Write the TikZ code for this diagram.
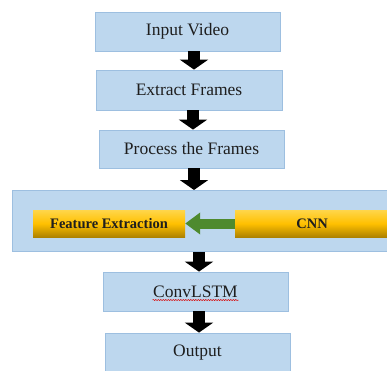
\documentclass[tikz,border=0pt]{standalone}
\usepackage{fontspec}
\setmainfont{Liberation Serif}
\usetikzlibrary{arrows.meta,calc,decorations.pathmorphing}
\definecolor{boxblue}{HTML}{BDD7EE}
\definecolor{boxedge}{HTML}{9DBFE0}
\definecolor{txt}{HTML}{1E1E1E}
\definecolor{arrgreen}{HTML}{4E8A2E}
\definecolor{goldtop}{HTML}{FFD64A}
\definecolor{goldmid}{HTML}{FFC000}
\definecolor{goldbot}{HTML}{AE8200}
\tikzset{
  x=1pt, y=1pt,
  bluebox/.style={draw=boxedge, line width=0.8pt, fill=boxblue, inner sep=0pt,
    font=\fontsize{17.5}{19}\selectfont, text=txt},
  goldbox/.style={inner sep=0pt, top color=goldtop, bottom color=goldbot, middle color=goldmid,
    font=\fontsize{14.5}{16}\selectfont\bfseries, text=txt},
  blockarrow/.style={draw=black, line width=12pt,
    -{Triangle[width=28pt,length=10pt]}},
  greenarrow/.style={draw=arrgreen, line width=10pt,
    -{Triangle[width=21pt,length=15pt]}}
}
\begin{document}
\begin{tikzpicture}
\useasboundingbox (0,0) rectangle (387,-370);
\fill[white] (0,0) rectangle (387,-370);
\node[bluebox, minimum width=185, minimum height=39] (input) at (187.5,-31.5) {Input Video};
\node[bluebox, minimum width=186, minimum height=40] (extract) at (189,-90) {Extract Frames};
\node[bluebox, minimum width=185, minimum height=38] (process) at (191.5,-149) {Process the Frames};
\node[bluebox, minimum width=382, minimum height=61, anchor=north west] (stage) at (12,-190) {};
\node[goldbox, minimum width=152, minimum height=27] (feat) at (109,-223.5) {Feature Extraction};
\node[goldbox, minimum width=160, minimum height=27, anchor=west] (cnn) at (235,-223.5) {\hspace*{-6pt}CNN};
\node[bluebox, minimum width=185, minimum height=39] (conv) at (195.5,-291.5) {ConvLSTM};
\node[bluebox, minimum width=185, minimum height=39] (out) at (197.5,-352.5) {Output};
\draw[red!85!black, line width=0.5pt, decorate, decoration={snake, amplitude=0.6pt, segment length=2.5pt}]
  ($(conv.center)+(-43,-8.5)$) -- ($(conv.center)+(43,-8.5)$);
\draw[blockarrow] (input.south -| 194,0) -- (extract.north -| 194,0);
\draw[blockarrow] (extract.south -| 193,0) -- (process.north -| 193,0);
\draw[blockarrow] (process.south -| 194,0) -- (stage.north -| 194,0);
\draw[blockarrow] (stage.south -| 199,0) -- (conv.north -| 199,0);
\draw[blockarrow] (conv.south -| 199,0) -- (out.north -| 199,0);
\draw[greenarrow] (cnn.west) -- (feat.east);
\end{tikzpicture}
\end{document}
